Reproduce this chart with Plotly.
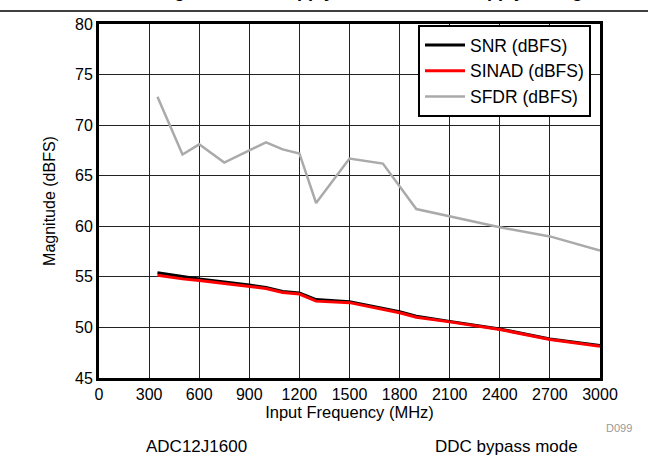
import plotly.graph_objects as go

freq_sfdr = [350, 500, 600, 750, 900, 1000, 1100, 1200, 1300, 1500, 1700, 1900, 2400, 2700, 3000]
sfdr = [72.8, 67.1, 68.1, 66.3, 67.5, 68.3, 67.6, 67.2, 62.3, 66.7, 66.2, 61.7, 59.9, 59.0, 57.6]

freq = [350, 500, 600, 900, 1000, 1100, 1200, 1300, 1450, 1500, 1800, 1900, 2100, 2400, 2700, 3000]
snr = [55.4, 55.0, 54.8, 54.2, 53.95, 53.55, 53.4, 52.75, 52.6, 52.55, 51.55, 51.1, 50.6, 49.85, 48.85, 48.2]
sinad = [55.15, 54.8, 54.65, 54.1, 53.85, 53.45, 53.3, 52.6, 52.5, 52.45, 51.45, 51.0, 50.55, 49.8, 48.8, 48.15]

x_ticks = [0, 300, 600, 900, 1200, 1500, 1800, 2100, 2400, 2700, 3000]
y_ticks = [45, 50, 55, 60, 65, 70, 75, 80]

FONT = "Liberation Sans, Arial, sans-serif"

fig = go.Figure()
fig.add_trace(go.Scatter(x=freq, y=snr, mode="lines", name="SNR (dBFS)",
                         line=dict(color="black", width=3)))
fig.add_trace(go.Scatter(x=freq, y=sinad, mode="lines", name="SINAD (dBFS)",
                         line=dict(color="#ff0000", width=3)))
fig.add_trace(go.Scatter(x=freq_sfdr, y=sfdr, mode="lines", name="SFDR (dBFS)",
                         line=dict(color="#aaaaaa", width=2.5)))

L, R, T, B = 99, 58, 24, 82
W, H = 658, 460
pw, ph = W - L - R, H - T - B

def px(xp):
    return (xp - L) / pw

def py(yp):
    return (H - B - yp) / ph

fig.update_layout(
    width=W, height=H,
    margin=dict(l=L, r=R, t=T, b=B),
    paper_bgcolor="white", plot_bgcolor="white",
    font=dict(family=FONT, size=16, color="black"),
    showlegend=True,
    legend=dict(
        x=px(418), y=py(25), xanchor="left", yanchor="top",
        bgcolor="white", bordercolor="black", borderwidth=2,
        font=dict(size=17.5), tracegroupgap=0, itemwidth=40,
    ),
    xaxis=dict(
        range=[0, 3000], tickvals=x_ticks, ticks="",
        showgrid=True, gridcolor="#222222", gridwidth=1,
        showline=True, linecolor="black", linewidth=3, mirror=True,
        zeroline=False,
        title=dict(text="Input Frequency (MHz)", font=dict(size=16.5), standoff=2),
        tickfont=dict(size=16),
    ),
    yaxis=dict(
        range=[45, 80], tickvals=y_ticks, ticks="",
        showgrid=True, gridcolor="#222222", gridwidth=1,
        showline=True, linecolor="black", linewidth=3, mirror=True,
        zeroline=False,
        title=dict(text="Magnitude (dBFS)", font=dict(size=16), standoff=16),
        tickfont=dict(size=16),
    ),
)

# title line under the cut-off title
fig.add_shape(type="line", xref="paper", yref="paper",
              x0=px(0), x1=px(648), y0=py(11), y1=py(11),
              line=dict(color="black", width=1.5))

# title mostly cut off at top of the image
fig.add_annotation(text="<b>Using Minimum Supply and Maximum Supply Voltage</b>",
                   xref="paper", yref="paper", x=px(364), y=py(3.5),
                   xanchor="center", yanchor="bottom", showarrow=False,
                   font=dict(size=18, family=FONT, color="black"))

fig.add_annotation(text="D099", xref="paper", yref="paper",
                   x=px(634), y=py(428), xanchor="right", yanchor="middle",
                   showarrow=False, font=dict(size=11, color="#999999"))
fig.add_annotation(text="ADC12J1600", xref="paper", yref="paper",
                   x=px(196), y=py(446), xanchor="center", yanchor="middle",
                   showarrow=False, font=dict(size=17, color="black"))
fig.add_annotation(text="DDC bypass mode", xref="paper", yref="paper",
                   x=px(506), y=py(446), xanchor="center", yanchor="middle",
                   showarrow=False, font=dict(size=17, color="black"))

fig.write_html("out.html", config={"displayModeBar": False},
               post_script="document.body.style.margin='0';document.body.style.overflow='hidden';")
